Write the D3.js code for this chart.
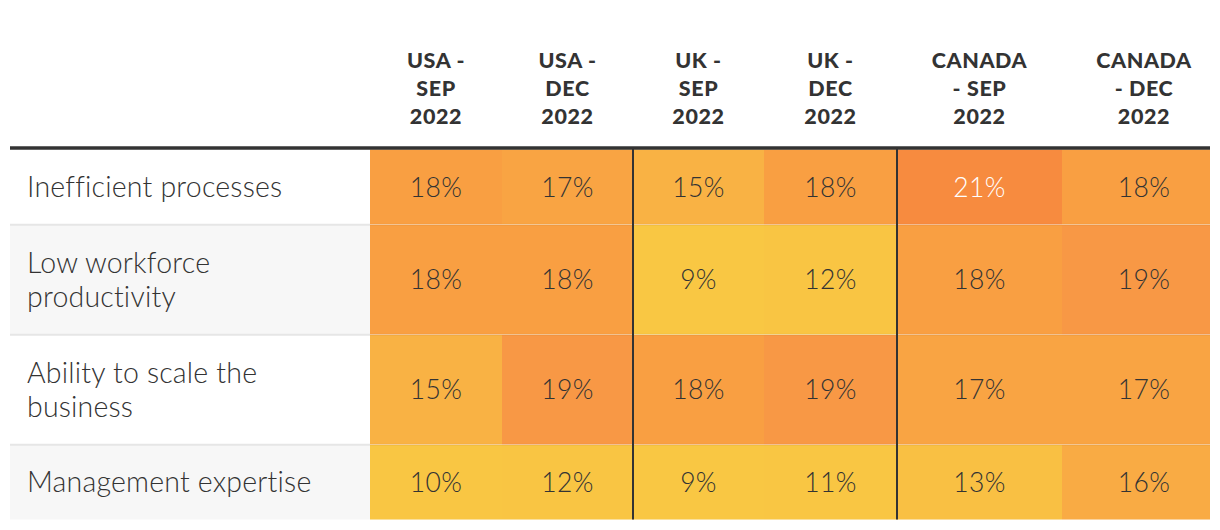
<!DOCTYPE html>
<html>
<head>
<meta charset="utf-8">
<script src="https://cdn.jsdelivr.net/npm/d3@7"></script>
<style>
  html, body { margin: 0; padding: 0; background: #fff; }
  svg { display: block; }
</style>
</head>
<body>
<svg id="chart" width="1220" height="530"></svg>
<script>
// ---- data ----
const columns = ["USA - SEP 2022", "USA - DEC 2022", "UK - SEP 2022", "UK - DEC 2022", "CANADA - SEP 2022", "CANADA - DEC 2022"];
const columnLines = [["USA -", "SEP", "2022"], ["USA -", "DEC", "2022"], ["UK -", "SEP", "2022"], ["UK -", "DEC", "2022"], ["CANADA", "- SEP", "2022"], ["CANADA", "- DEC", "2022"]];
const categories = ["Inefficient processes", "Low workforce productivity", "Ability to scale the business", "Management expertise"];
const categoryLines = [["Inefficient processes"], ["Low workforce", "productivity"], ["Ability to scale the", "business"], ["Management expertise"]];
const inefficientProcesses = [18, 17, 15, 18, 21, 18];
const lowWorkforceProductivity = [18, 18, 9, 12, 18, 19];
const abilityToScale = [15, 19, 18, 19, 17, 17];
const managementExpertise = [10, 12, 9, 11, 13, 16];
const seriesValues = [inefficientProcesses, lowWorkforceProductivity, abilityToScale, managementExpertise];
const groupStarts = ["UK - SEP 2022", "CANADA - SEP 2022"];

// ---- layout ----
const svg = d3.select("#chart");
const tableLeft = 10, tableRight = 1210;
const headerLineY = 148;
const fontBody = "Lato, 'Noto Sans', sans-serif";

const xLeft = d3.scaleOrdinal().domain(columns).range([370, 502, 633, 764, 897, 1062]);
const xRight = d3.scaleOrdinal().domain(columns).range([502, 633, 764, 897, 1062, 1226]);
const yTop = d3.scaleOrdinal().domain(categories).range([149.5, 225, 335, 445]);
const yBottom = d3.scaleOrdinal().domain(categories).range([224.5, 334.5, 444.5, 519.5]);
const color = d3.scaleLinear()
  .domain([9, 12, 13, 15, 17, 18, 19, 21])
  .range(["#f9c743", "#f9c543", "#f9c043", "#f9b244", "#f9a443", "#f99f42", "#f89845", "#f78b3f"]);

svg.append("defs").append("clipPath").attr("id", "clip")
  .append("rect").attr("x", tableLeft).attr("y", 0).attr("width", tableRight - tableLeft).attr("height", 530);

const g = svg.append("g").attr("clip-path", "url(#clip)");

const cells = [];
categories.forEach((cat, i) => columns.forEach((col, j) => cells.push({cat, col, v: seriesValues[i][j]})));

// row backgrounds (label column stripes)
g.selectAll("rect.rowbg").data(categories).join("rect")
  .attr("class", "rowbg")
  .attr("x", tableLeft).attr("width", tableRight - tableLeft)
  .attr("y", d => yTop(d)).attr("height", d => yBottom(d) - yTop(d))
  .attr("fill", (d, i) => i % 2 ? "#f7f7f7" : "#ffffff");

// heat cells
g.selectAll("rect.cell").data(cells).join("rect")
  .attr("class", "cell")
  .attr("x", d => xLeft(d.col)).attr("width", d => xRight(d.col) - xLeft(d.col))
  .attr("y", d => yTop(d.cat)).attr("height", d => yBottom(d.cat) - yTop(d.cat))
  .attr("fill", d => color(d.v));

// row separators
const seps = categories.slice(0, -1);
g.selectAll("line.sepL").data(seps).join("line")
  .attr("x1", tableLeft).attr("x2", xLeft(columns[0]))
  .attr("y1", d => yBottom(d) + 0.25).attr("y2", d => yBottom(d) + 0.25)
  .attr("stroke", "#e6e6e6").attr("stroke-width", 2);
g.selectAll("line.sepR").data(seps).join("line")
  .attr("x1", xLeft(columns[0])).attr("x2", tableRight)
  .attr("y1", d => yBottom(d) + 0.25).attr("y2", d => yBottom(d) + 0.25)
  .attr("stroke", "rgba(120,60,0,0.07)").attr("stroke-width", 2);

// cell values
g.selectAll("text.val").data(cells).join("text")
  .attr("x", d => (xLeft(d.col) + xRight(d.col)) / 2)
  .attr("y", d => (yTop(d.cat) + yBottom(d.cat)) / 2 + 9.5)
  .attr("text-anchor", "middle")
  .attr("font-family", fontBody).attr("font-weight", 300).attr("font-size", 26.5)
  .attr("letter-spacing", 0.3)
  .attr("fill", d => d.v >= 21 ? "#ffffff" : "#333333")
  .text(d => d.v + "%");

// row labels
const labelG = g.selectAll("text.lab").data(categories).join("text")
  .attr("font-family", fontBody).attr("font-weight", 300).attr("font-size", 28.5)
  .attr("letter-spacing", 0.2).attr("fill", "#333333");
labelG.each(function(d, i) {
  const lines = categoryLines[i];
  const mid = (yTop(d) + yBottom(d)) / 2;
  const lh = 34;
  d3.select(this).selectAll("tspan").data(lines).join("tspan")
    .attr("x", 27)
    .attr("y", (l, k) => mid + 10 + (k - (lines.length - 1) / 2) * lh)
    .text(l => l);
});

// group dividers
g.selectAll("line.grp").data(groupStarts).join("line")
  .attr("x1", d => xLeft(d)).attr("x2", d => xLeft(d))
  .attr("y1", headerLineY).attr("y2", yBottom(categories[categories.length - 1]))
  .attr("stroke", "#333333").attr("stroke-width", 2);

// header line
g.append("line")
  .attr("x1", tableLeft).attr("x2", tableRight)
  .attr("y1", headerLineY).attr("y2", headerLineY)
  .attr("stroke", "#333333").attr("stroke-width", 3.5);

// column headers
g.selectAll("text.hdr").data(columns).join("text")
  .attr("class", "hdr")
  .attr("font-family", fontBody).attr("font-weight", 900).attr("font-size", 21.5)
  .attr("letter-spacing", 0.6)
  .attr("fill", "#333333").attr("text-anchor", "middle")
  .each(function(d, i) {
    const cx = (xLeft(d) + xRight(d)) / 2;
    d3.select(this).selectAll("tspan").data(columnLines[i]).join("tspan")
      .attr("x", cx)
      .attr("y", (l, k) => 67.5 + k * 28.2)
      .text(l => l);
  });
</script>
</body>
</html>
